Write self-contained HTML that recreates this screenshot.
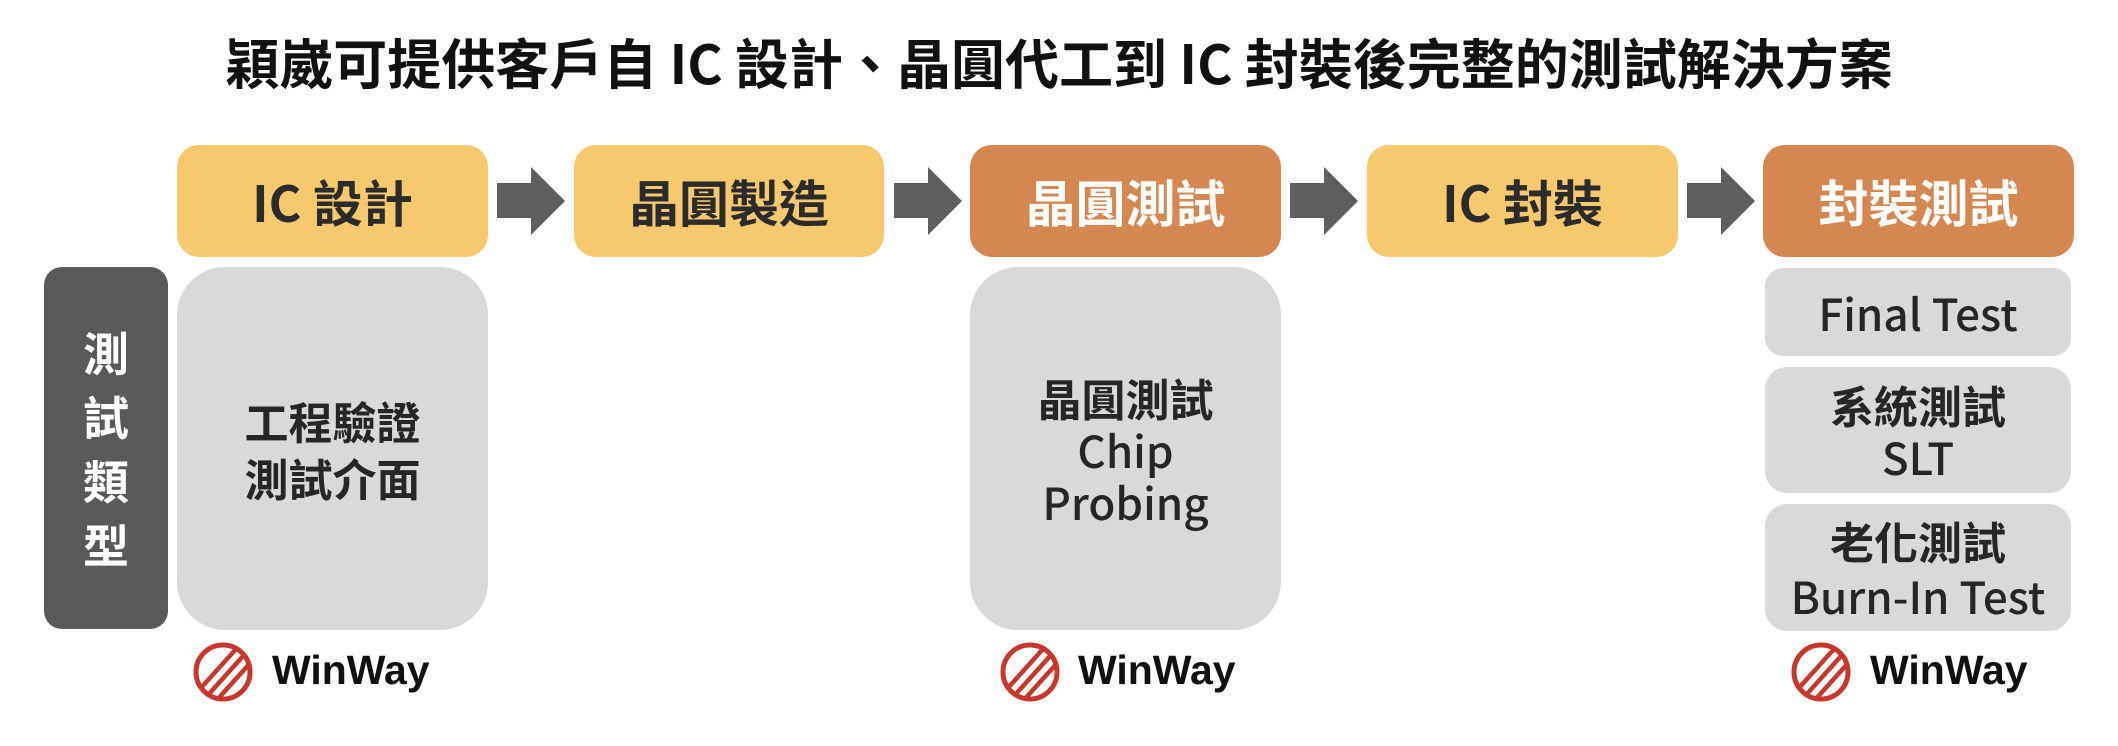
<!DOCTYPE html>
<html><head><meta charset="utf-8"><style>
body{margin:0;width:2118px;height:746px;background:#fff;position:relative;overflow:hidden;font-family:"Liberation Sans","Noto Sans CJK TC",sans-serif;}
.a{position:absolute;box-sizing:border-box;display:flex;align-items:center;justify-content:center;text-align:center;font-family:"Noto Sans CJK TC","Liberation Sans",sans-serif;font-weight:bold;}
.y{background:#F6C96F;color:#2b2b2b;border-radius:22px;font-size:50px;}
.o{background:#D58751;color:#fff;border-radius:22px;font-size:50px;}
.g{background:#D9D9D9;color:#262626;font-size:44px;line-height:56px;}
.arr{position:absolute;}
.logo{position:absolute;width:62px;height:62px;}
.wt{position:absolute;font-family:"Liberation Sans",sans-serif;font-weight:bold;font-size:41px;color:#111;}
</style></head><body>
<div class="a" style="left:0;top:22px;width:2118px;height:76px;font-size:54px;color:#111;">穎崴可提供客戶自 IC 設計、晶圓代工到 IC 封裝後完整的測試解決方案</div>

<div class="a y" style="left:177px;top:145px;width:311px;height:112px;">IC 設計</div>
<div class="a y" style="left:574px;top:145px;width:310px;height:112px;">晶圓製造</div>
<div class="a o" style="left:970px;top:145px;width:311px;height:112px;">晶圓測試</div>
<div class="a y" style="left:1367px;top:145px;width:311px;height:112px;">IC 封裝</div>
<div class="a o" style="left:1763px;top:145px;width:311px;height:112px;">封裝測試</div>

<svg class="arr" style="left:497px;top:167px" width="70" height="70"><polygon points="0,16 34,16 34,0 68,34 34,68 34,51 0,51" fill="#5e5e5e"/></svg>
<svg class="arr" style="left:894px;top:167px" width="70" height="70"><polygon points="0,16 34,16 34,0 68,34 34,68 34,51 0,51" fill="#5e5e5e"/></svg>
<svg class="arr" style="left:1290px;top:167px" width="70" height="70"><polygon points="0,16 34,16 34,0 68,34 34,68 34,51 0,51" fill="#5e5e5e"/></svg>
<svg class="arr" style="left:1687px;top:167px" width="70" height="70"><polygon points="0,16 34,16 34,0 68,34 34,68 34,51 0,51" fill="#5e5e5e"/></svg>

<div class="a" style="left:44px;top:267px;width:124px;height:362px;background:#595959;border-radius:18px;color:#fff;font-size:46px;line-height:64px;">測<br>試<br>類<br>型</div>
<div class="a g" style="left:177px;top:267px;width:311px;height:363px;border-radius:48px;line-height:57px;">工程驗證<br>測試介面</div>
<div class="a g" style="left:970px;top:267px;width:311px;height:363px;border-radius:48px;font-weight:500;line-height:52px;"><span><b>晶圓測試</b><br>Chip<br>Probing</span></div>
<div class="a g" style="left:1765px;top:268px;width:306px;height:88px;border-radius:18px;font-weight:500;">Final Test</div>
<div class="a g" style="left:1765px;top:367px;width:306px;height:126px;border-radius:22px;font-weight:500;line-height:52px;"><span><b>系統測試</b><br>SLT</span></div>
<div class="a g" style="left:1765px;top:504px;width:306px;height:127px;border-radius:22px;font-weight:500;line-height:55px;"><span><b>老化測試</b><br>Burn-In Test</span></div>

<svg class="logo" style="left:192px;top:641px" viewBox="0 0 62 62"><defs><clipPath id="c"><circle cx="31" cy="31" r="28"/></clipPath></defs>
<circle cx="31" cy="31" r="27" fill="none" stroke="#C8372D" stroke-width="5"/>
<g clip-path="url(#c)" stroke="#C8372D" stroke-width="4.5"><line x1="8" y1="48" x2="44" y2="8"/><line x1="16" y1="54" x2="52" y2="14"/><line x1="24" y1="60" x2="60" y2="20"/></g></svg>
<div class="wt" style="left:272px;top:647px;">WinWay</div>
<svg class="logo" style="left:999px;top:641px" viewBox="0 0 62 62"><circle cx="31" cy="31" r="27" fill="none" stroke="#C8372D" stroke-width="5"/>
<g clip-path="url(#c)" stroke="#C8372D" stroke-width="4.5"><line x1="8" y1="48" x2="44" y2="8"/><line x1="16" y1="54" x2="52" y2="14"/><line x1="24" y1="60" x2="60" y2="20"/></g></svg>
<div class="wt" style="left:1078px;top:647px;">WinWay</div>
<svg class="logo" style="left:1790px;top:641px" viewBox="0 0 62 62"><circle cx="31" cy="31" r="27" fill="none" stroke="#C8372D" stroke-width="5"/>
<g clip-path="url(#c)" stroke="#C8372D" stroke-width="4.5"><line x1="8" y1="48" x2="44" y2="8"/><line x1="16" y1="54" x2="52" y2="14"/><line x1="24" y1="60" x2="60" y2="20"/></g></svg>
<div class="wt" style="left:1870px;top:647px;">WinWay</div>
</body></html>
